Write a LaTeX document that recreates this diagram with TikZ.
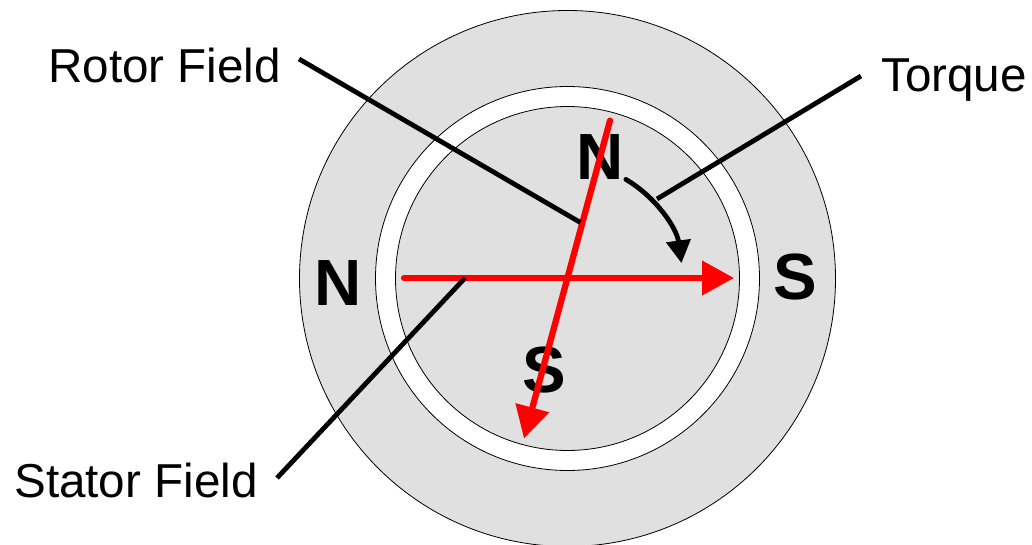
\documentclass[tikz,border=0pt]{standalone}
\usepackage{fontspec}
\setmainfont{Liberation Sans}
\usetikzlibrary{arrows.meta}
\definecolor{ringgray}{RGB}{224,224,224}
\definecolor{fieldred}{RGB}{255,0,0}
\begin{document}
\begin{tikzpicture}[x=0.75pt,y=-0.75pt,
  ringline/.style={draw=black,line width=0.6pt},
  fieldarrow/.style={draw=fieldred,line width=4.7pt,line cap=round,-{Triangle[length=24pt,width=25pt]}},
  leader/.style={draw=black,line width=3.6pt},
  torquearrow/.style={draw=black,line width=3.6pt,line cap=round,-{Triangle[length=17pt,width=18pt]}},
  pole/.style={font=\fontsize{49}{50}\selectfont\bfseries,inner sep=0pt},
  lbl/.style={font=\fontsize{35.7}{40}\selectfont,inner sep=0pt,anchor=base west}]
\useasboundingbox (0,0) rectangle (1032,545);
\coordinate (c) at (567.5,278.5);
% stator / gap / rotor
\path[fill=ringgray,ringline] (c) circle[radius=268];
\path[fill=white,ringline] (c) circle[radius=192];
\path[fill=ringgray,ringline] (c) circle[radius=172];
% labels
\node[lbl] (rotorlbl) at (48,82.7) {Rotor Field};
\node[lbl] (torquelbl) at (881,91.7) {Torque};
\node[lbl] (statorlbl) at (14,497) {Stator Field};
% poles
\node[pole] (nrot) at (600,157) {N};
\node[pole] (nst) at (338,283) {N};
\node[pole] (sst) at (795,277) {S};
\node[pole] (srot) at (544,370) {S};
% field arrows
\coordinate (hs) at (404,278);
\coordinate (he) at (734,278);
\coordinate (rs) at (610,120.6);
\coordinate (re) at (524,438.6);
\path[fieldarrow] (hs) -- (he);
\path[fieldarrow] (rs) -- (re);
% torque arc
\coordinate (ts) at ([shift={(-59.5:115)}]c);
\path[torquearrow] (ts) arc[start angle=-59.5,end angle=-7.7,radius=115];
% leaders
\coordinate (rl1) at (299,59);
\coordinate (rl2) at (580.4,222.5);
\coordinate (tl1) at (861,76);
\coordinate (tl2) at (657,199);
\coordinate (sl1) at (465,278);
\coordinate (sl2) at (277,478);
\path[leader] (rl1) -- (rl2);
\path[leader] (tl1) -- (tl2);
\path[leader] (sl1) -- (sl2);
\end{tikzpicture}
\end{document}
